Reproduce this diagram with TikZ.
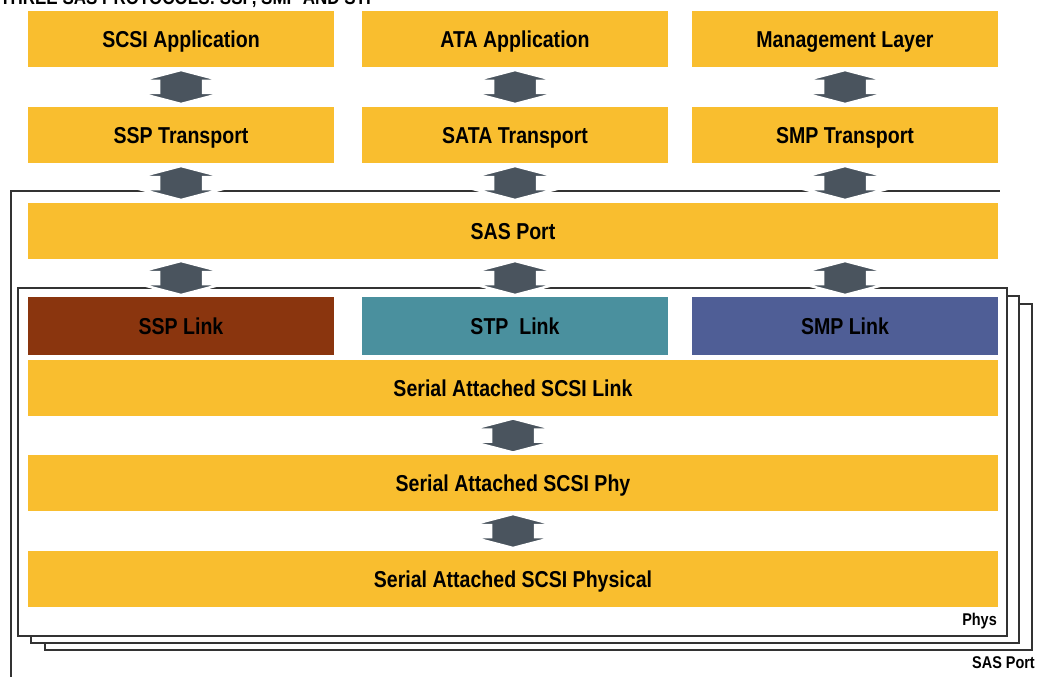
\documentclass[tikz,border=0pt]{standalone}
\usepackage{fontspec}
\setmainfont{Liberation Sans}[FakeStretch=0.85]
\usepackage{tikz}
\usetikzlibrary{calc}
\definecolor{sasyellow}{HTML}{F9BE2F}
\definecolor{sasgray}{HTML}{4A545E}
\definecolor{ssplink}{HTML}{8A350E}
\definecolor{stplink}{HTML}{4A909E}
\definecolor{smplink}{HTML}{4F5E96}
\definecolor{frmgray}{HTML}{333333}

\begin{document}
\begin{tikzpicture}[x=1pt,y=-1pt,
  lay/.style={fill=sasyellow,minimum height=56pt,inner sep=0pt,text height=16.5pt,text depth=0pt,font=\fontsize{23}{26}\selectfont\bfseries},
  col/.style={lay,minimum width=306pt},
  row/.style={lay,minimum width=970pt},
  arr/.style={fill=sasgray,draw=white,line width=2.5pt,line join=miter},
  frm/.style={draw=frmgray,line width=2.5pt,fill=white},
  tag/.style={anchor=east,inner sep=0pt,font=\fontsize{17}{19}\selectfont\bfseries}]
\newcommand{\dblarr}[1]{\filldraw[arr] (#1) +(0,-17) -- +(42,-6) -- +(22,-6) -- +(22,6) -- +(42,6) -- +(0,17) -- +(-42,6) -- +(-22,6) -- +(-22,-6) -- +(-42,-6) -- cycle;}
\useasboundingbox (0,0) rectangle (1045,677);
% title, cut by the page edge
\node[anchor=base west,inner sep=0pt,font=\fontsize{20}{22}\selectfont\bfseries] (title) at (0,5) {THREE SAS PROTOCOLS: SSP, SMP AND STP};
% frames
\draw[draw=frmgray,line width=2.5pt] (11,690) -- (11,191) -- (1000,191);
\draw[frm] (45,304) rectangle (1032,650);
\draw[frm] (31,296) rectangle (1019,643);
\draw[frm] (18,288) rectangle (1007,636);
\node[tag] (phys) at (997,621) {Phys};
\node[tag] (port) at (1035,663) {SAS Port};
% upper layers
\node[col] (app1) at (181,39) {SCSI Application};
\node[col] (app2) at (515,39) {ATA Application};
\node[col] (app3) at (845,39) {Management Layer};
\node[col] (tr1) at (181,135) {SSP Transport};
\node[col] (tr2) at (515,135) {SATA Transport};
\node[col] (tr3) at (845,135) {SMP Transport};
\node[row] (sasport) at (513,231) {SAS Port};
% links
\node[col,fill=ssplink,minimum height=58pt] (lk1) at (181,326) {SSP Link};
\node[col,fill=stplink,minimum height=58pt] (lk2) at (515,326) {STP\ \ Link};
\node[col,fill=smplink,minimum height=58pt] (lk3) at (845,326) {SMP Link};
\node[row] (saslink) at (513,388) {Serial Attached SCSI Link};
\node[row] (sasphy) at (513,483) {Serial Attached SCSI Phy};
\node[row] (sasphys) at (513,579) {Serial Attached SCSI Physical};
% arrows
\foreach \i in {1,2,3}{
  \coordinate (m\i) at ($(app\i.south)!0.5!(tr\i.north)$);
  \coordinate (n\i) at ($(tr\i.south)!0.5!(sasport.north -| tr\i)$);
  \coordinate (p\i) at ($(sasport.south -| lk\i)!0.5!(lk\i.north)$);
  \dblarr{m\i} \dblarr{n\i} \dblarr{p\i}
}
\coordinate (q1) at ($(saslink.south)!0.5!(sasphy.north)$);
\coordinate (q2) at ($(sasphy.south)!0.5!(sasphys.north)$);
\dblarr{q1} \dblarr{q2}
\end{tikzpicture}
\end{document}
